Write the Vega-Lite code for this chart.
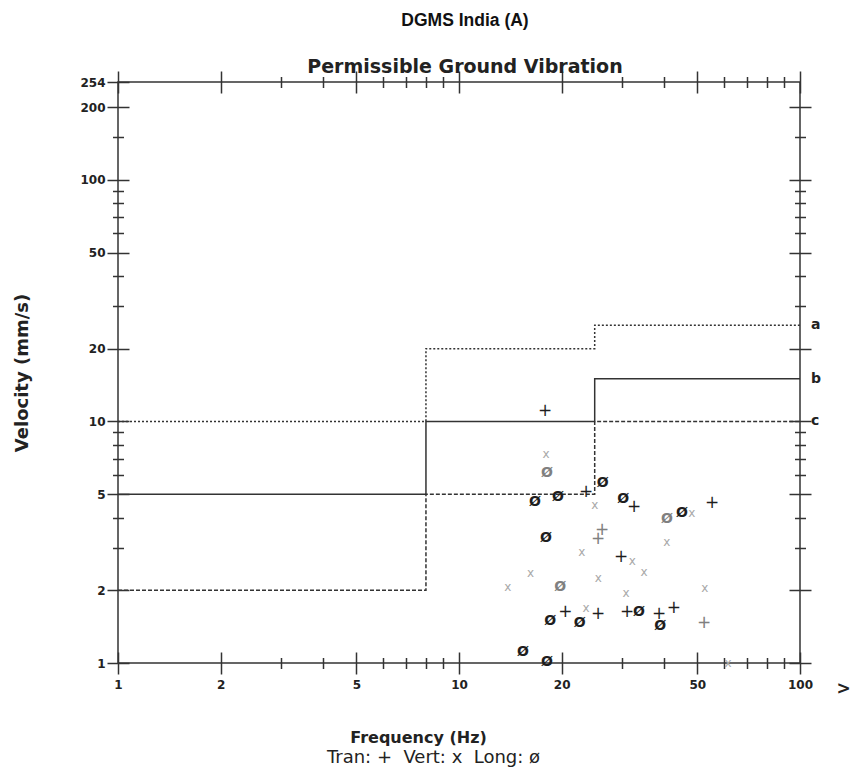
{
  "$schema": "https://vega.github.io/schema/vega-lite/v6.json",
  "width": 682,
  "height": 581,
  "autosize": {"type": "none"},
  "padding": {"left": 118, "top": 82, "right": 57, "bottom": 105},
  "background": "white",
  "title": {
    "text": "DGMS India (A)",
    "subtitle": "Permissible Ground Vibration",
    "anchor": "middle",
    "dx": 6,
    "font": "Liberation Sans",
    "fontSize": 17.5,
    "fontWeight": "bold",
    "color": "#111",
    "subtitleFont": "DejaVu Sans",
    "subtitleFontSize": 19,
    "subtitleFontWeight": "bold",
    "subtitleColor": "#222",
    "subtitlePadding": 29,
    "offset": -7
  },
  "config": {
    "view": {"stroke": "#333", "strokeWidth": 1.5},
    "axis": {
      "domain": false,
      "grid": false,
      "labelFont": "DejaVu Sans",
      "labelFontWeight": "bold",
      "labelFontSize": 12,
      "labelColor": "#222",
      "labelFlush": false,
      "labelOverlap": false,
      "labelBound": false,
      "tickColor": "#333",
      "tickWidth": 1.5,
      "titleFont": "DejaVu Sans",
      "titleColor": "#222"
    },
    "text": {"font": "DejaVu Sans"}
  },
  "datasets": {
    "lines": [
      {"f": 1, "v": 10, "s": "a"}, {"f": 8, "v": 20, "s": "a"}, {"f": 25, "v": 25, "s": "a"}, {"f": 100, "v": 25, "s": "a"},
      {"f": 1, "v": 5, "s": "b"}, {"f": 8, "v": 10, "s": "b"}, {"f": 25, "v": 15, "s": "b"}, {"f": 100, "v": 15, "s": "b"},
      {"f": 1, "v": 2, "s": "c"}, {"f": 8, "v": 5, "s": "c"}, {"f": 25, "v": 10, "s": "c"}, {"f": 100, "v": 10, "s": "c"}
    ],
    "labels": [{"s": "a", "v": 25}, {"s": "b", "v": 15}, {"s": "c", "v": 10}],
    "tran": [
      {"f": 17.9, "v": 11.0, "g": "1"}, {"f": 23.6, "v": 5.09, "g": "1"}, {"f": 32.6, "v": 4.41, "g": "1"},
      {"f": 55.2, "v": 4.58, "g": "1"}, {"f": 26.3, "v": 3.54, "g": "2"}, {"f": 25.6, "v": 3.25, "g": "2"},
      {"f": 29.9, "v": 2.74, "g": "1"}, {"f": 20.5, "v": 1.62, "g": "1"}, {"f": 25.6, "v": 1.59, "g": "1"},
      {"f": 31.1, "v": 1.62, "g": "1"}, {"f": 38.6, "v": 1.59, "g": "1"}, {"f": 42.7, "v": 1.69, "g": "1"},
      {"f": 52.3, "v": 1.46, "g": "2"}
    ],
    "vert": [
      {"f": 18.0, "v": 7.3}, {"f": 25.0, "v": 4.5}, {"f": 22.9, "v": 2.87}, {"f": 16.2, "v": 2.35},
      {"f": 13.9, "v": 2.06}, {"f": 25.6, "v": 2.24}, {"f": 23.6, "v": 1.69}, {"f": 32.2, "v": 2.64},
      {"f": 34.9, "v": 2.38}, {"f": 30.9, "v": 1.95}, {"f": 48.2, "v": 4.17}, {"f": 40.7, "v": 3.16},
      {"f": 52.6, "v": 2.04}, {"f": 61.5, "v": 1.0}
    ],
    "long": [
      {"f": 18.1, "v": 6.1, "g": "2"}, {"f": 16.7, "v": 4.63, "g": "1"}, {"f": 19.5, "v": 4.85, "g": "1"},
      {"f": 26.4, "v": 5.54, "g": "1"}, {"f": 18.0, "v": 3.29, "g": "1"}, {"f": 30.3, "v": 4.76, "g": "1"},
      {"f": 40.7, "v": 3.94, "g": "2"}, {"f": 45.1, "v": 4.17, "g": "1"}, {"f": 19.8, "v": 2.06, "g": "2"},
      {"f": 18.5, "v": 1.49, "g": "1"}, {"f": 22.6, "v": 1.46, "g": "1"}, {"f": 15.4, "v": 1.11, "g": "1"},
      {"f": 18.1, "v": 1.01, "g": "1"}, {"f": 33.7, "v": 1.62, "g": "1"}, {"f": 38.9, "v": 1.42, "g": "1"}
    ]
  },
  "resolve": {"axis": {"x": "independent", "y": "independent"}},
  "layer": [
    {
      "data": {"name": "lines"},
      "mark": {"type": "line", "interpolate": "step-after", "color": "#333", "strokeWidth": 1.5},
      "encoding": {
        "x": {
          "field": "f", "type": "quantitative",
          "scale": {"type": "log", "domain": [1, 100], "nice": false, "zero": false},
          "axis": {
            "orient": "bottom", "values": [1, 2, 5, 10, 20, 50, 100], "format": "d",
            "tickSize": 22, "offset": -11, "labelPadding": 5,
            "title": "Frequency (Hz)", "titleFontSize": 16, "titleFontWeight": "bold", "titlePadding": 39, "titleX": 300
          }
        },
        "y": {
          "field": "v", "type": "quantitative",
          "scale": {"type": "log", "domain": [1, 254], "nice": false, "zero": false},
          "axis": {
            "orient": "left", "values": [1, 2, 5, 10, 20, 50, 100, 200, 254], "format": "d",
            "tickSize": 22, "offset": -11, "labelPadding": 2,
            "title": "Velocity (mm/s)", "titleFontSize": 18, "titleFontWeight": "bold", "titlePadding": 48
          }
        },
        "detail": {"field": "s"},
        "strokeDash": {
          "field": "s", "type": "nominal",
          "scale": {"domain": ["a", "b", "c"], "range": [[2, 2], [1, 0], [4, 2]]},
          "legend": null
        }
      }
    },
    {
      "data": {"name": "vert"},
      "mark": {"type": "text", "text": "x", "fontSize": 12, "color": "#a8a8a8", "align": "center", "baseline": "middle"},
      "encoding": {
        "x": {
          "field": "f", "type": "quantitative",
          "axis": {
            "orient": "bottom", "values": [3, 4, 6, 7, 8, 9, 30, 40, 60, 70, 80, 90],
            "tickSize": 11, "offset": -5.5, "labels": false,
            "title": "Tran: +\u00a0\u00a0Vert: x\u00a0\u00a0Long: ø", "titleFontSize": 18, "titleFontWeight": "normal", "titlePadding": 79, "titleX": 315
          }
        },
        "y": {
          "field": "v", "type": "quantitative",
          "axis": {
            "orient": "left", "values": [3, 4, 6, 7, 8, 9, 30, 40, 60, 70, 80, 90, 150],
            "tickSize": 11, "offset": -5.5, "labels": false, "title": null
          }
        }
      }
    },
    {
      "data": {"name": "tran"},
      "mark": {"type": "text", "text": "+", "fontSize": 17, "align": "center", "baseline": "middle"},
      "encoding": {
        "x": {
          "field": "f", "type": "quantitative",
          "axis": {
            "orient": "top", "values": [1, 2, 5, 10, 20, 50, 100],
            "tickSize": 22, "offset": -11, "labels": false, "title": null
          }
        },
        "y": {
          "field": "v", "type": "quantitative",
          "axis": {
            "orient": "right", "values": [1, 2, 5, 10, 20, 50, 100, 200],
            "tickSize": 22, "offset": -11, "labels": false, "title": null
          }
        },
        "color": {"condition": {"test": "datum.g == '2'", "value": "#808080"}, "value": "#1e1e1e"}
      }
    },
    {
      "data": {"name": "long"},
      "mark": {"type": "text", "text": "Ø", "fontSize": 14, "fontWeight": "bold", "align": "center", "baseline": "middle"},
      "encoding": {
        "x": {
          "field": "f", "type": "quantitative",
          "axis": {
            "orient": "top", "values": [3, 4, 6, 7, 8, 9, 30, 40, 60, 70, 80, 90],
            "tickSize": 11, "offset": -5.5, "labels": false, "title": null
          }
        },
        "y": {
          "field": "v", "type": "quantitative",
          "axis": {
            "orient": "right", "values": [3, 4, 6, 7, 8, 9, 30, 40, 60, 70, 80, 90, 150],
            "tickSize": 11, "offset": -5.5, "labels": false, "title": null
          }
        },
        "color": {"condition": {"test": "datum.g == '2'", "value": "#808080"}, "value": "#1e1e1e"}
      }
    },
    {
      "data": {"name": "labels"},
      "mark": {"type": "text", "fontSize": 14, "fontWeight": "bold", "align": "left", "baseline": "middle", "dx": 11, "color": "#222"},
      "encoding": {
        "x": {
          "datum": 100, "type": "quantitative",
          "axis": {
            "orient": "bottom", "values": [100], "ticks": false, "tickSize": 0,
            "labelExpr": "'>'", "labelOffset": 43, "labelPadding": 17, "labelFontSize": 17, "title": null
          }
        },
        "y": {"field": "v", "type": "quantitative", "axis": null},
        "text": {"field": "s"}
      }
    }
  ]
}
